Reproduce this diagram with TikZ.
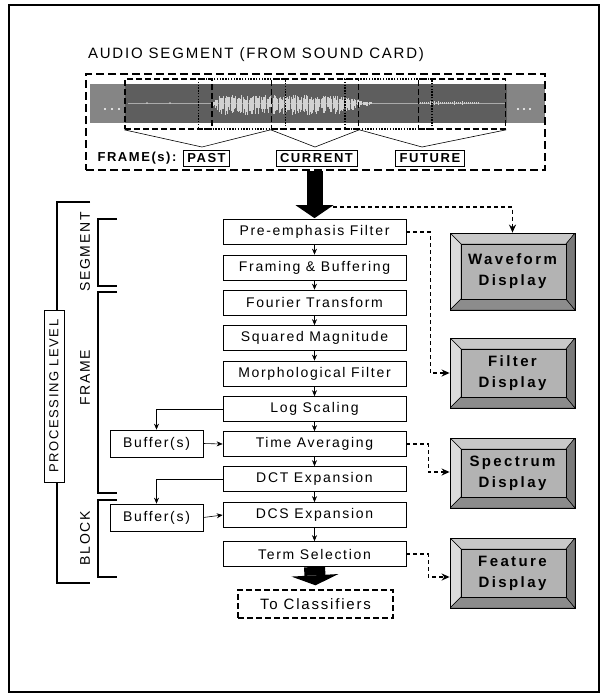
\documentclass[tikz,border=0pt]{standalone}
\usepackage{fontspec}
\setmainfont{Liberation Sans}
\newfontfamily\spfont[LetterSpace=12]{Liberation Sans}
\newfontfamily\dispfam[LetterSpace=16]{Liberation Sans}
\usetikzlibrary{arrows.meta,calc}
\definecolor{lgray}{HTML}{858585}
\definecolor{dgray}{HTML}{5E5E5E}
\definecolor{wcol}{HTML}{D2D2D2}
\definecolor{bface}{HTML}{B3B3B3}
\definecolor{btop}{HTML}{C8C8C8}
\definecolor{bleft}{HTML}{DCDCDC}
\definecolor{bbot}{HTML}{8C8C8C}
\definecolor{bright}{HTML}{7A7A7A}
\begin{document}
\begin{tikzpicture}[x=1pt,y=-1pt,
  pbox/.style={draw, line width=0.7pt, minimum width=183pt, minimum height=25pt, inner sep=0pt, font=\spfont\fontsize{14}{16}\selectfont},
  bufbox/.style={pbox, minimum width=93pt, minimum height=27pt},
  lbox/.style={draw, line width=0.8pt, minimum height=16pt, inner xsep=4pt, inner ysep=0pt, font=\spfont\bfseries\fontsize{13}{15}\selectfont},
  framedash/.style={draw, line width=1.6pt, dash pattern=on 6pt off 3pt, minimum width=87pt, minimum height=50pt, inner sep=0pt},
  framedot/.style={draw, line width=1.4pt, dash pattern=on 1.4pt off 1.4pt, minimum width=87pt, minimum height=50pt, inner sep=0pt},
  arr/.style={line width=0.6pt, -{Stealth[length=6pt,width=5pt]}},
  dconn/.style={line width=1.4pt, dash pattern=on 4pt off 3pt, -{Stealth[length=8pt,width=7pt]}},
  bracket/.style={line width=1.4pt},
  sidelabel/.style={rotate=90, font=\spfont\fontsize{14}{16}\selectfont},
  disp/.style={draw=black, line width=0.8pt, minimum width=125pt, minimum height=70pt, inner sep=0pt, align=center,
    font=\dispfam\bfseries\fontsize{15}{21}\selectfont,
    path picture={
      \path (path picture bounding box.south west) coordinate (@sw)
            (path picture bounding box.north east) coordinate (@ne)
            (path picture bounding box.north west) coordinate (@nw)
            (path picture bounding box.south east) coordinate (@se);
      \coordinate (@inw) at ([shift={(11pt,-11pt)}]@nw);
      \coordinate (@ine) at ([shift={(-9pt,-11pt)}]@ne);
      \coordinate (@isw) at ([shift={(11pt,11pt)}]@sw);
      \coordinate (@ise) at ([shift={(-9pt,11pt)}]@se);
      \filldraw[fill=btop, draw=black, line width=0.5pt] (@nw) -- (@ne) -- (@ine) -- (@inw) -- cycle;
      \filldraw[fill=bleft, draw=black, line width=0.5pt] (@nw) -- (@inw) -- (@isw) -- (@sw) -- cycle;
      \filldraw[fill=bbot, draw=black, line width=0.5pt] (@sw) -- (@isw) -- (@ise) -- (@se) -- cycle;
      \filldraw[fill=bright, draw=black, line width=0.5pt] (@ne) -- (@se) -- (@ise) -- (@ine) -- cycle;
      \filldraw[fill=bface, draw=black, line width=0.5pt] (@inw) -- (@ine) -- (@ise) -- (@isw) -- cycle;
    }}
]
\useasboundingbox (0,0) rectangle (602,696);
\draw[line width=2pt] (9,5) rectangle (599,692);

% ---------- audio segment ----------
\node[font=\spfont\fontsize{15}{17}\selectfont] (title) at (256,55) {AUDIO SEGMENT (FROM SOUND CARD)};
\fill[lgray] (90,84) rectangle (545,123);
\fill[dgray] (125,84) rectangle (507,123);
\draw[color=lgray!70!white, line width=1pt] (128,103) -- (505,103);
\pgfmathsetseed{5}
\foreach \x in {213,214.2,...,372} {
  \pgfmathsetmacro\env{min(1,(\x-211)/8)*min(1,max(0.12,(378-\x)/42))}
  \pgfmathsetmacro\up{\env*(3+5*rnd)}
  \pgfmathsetmacro\dn{\env*(4+8*rnd)}
  \draw[wcol, line width=0.8pt] (\x,103-\up) -- (\x,103+\dn);
}
\foreach \x in {420,422,...,478} {
  \pgfmathsetmacro\up{0.5+1.2*rnd}
  \draw[wcol, line width=0.6pt] (\x,103-\up) -- (\x,103+\up);
}
\foreach \x in {147,170} {\fill[wcol] (\x,103) circle (0.9);}
\foreach \x in {105,112,119,518,524,530} {\fill[white] (\x,109) circle (1.1);}

\node[framedash] (fa) at (168.5,104) {};
\node[framedot]  (fb) at (242,104) {};
\node[framedash] (fc) at (315,104) {};
\node[framedot]  (fd) at (388.5,104) {};
\node[framedash] (fe) at (462,104) {};

\node[draw, line width=1.8pt, dash pattern=on 8pt off 4pt, minimum width=459pt, minimum height=96pt, inner sep=0pt] (audio) at (315.5,122) {};

\node[font=\spfont\bfseries\fontsize{13}{15}\selectfont] (frames) at (137,158.5) {FRAME(s):};
\node[lbox] (past) at (206.5,158.5) {PAST};
\node[lbox] (cur) at (316.5,158.5) {CURRENT};
\node[lbox] (fut) at (430,158.5) {FUTURE};
\coordinate (pastpt) at (202,147);
\coordinate (curpt) at (315,147);
\coordinate (futpt) at (422,147);
\draw[line width=0.6pt] (fa.south west) -- (pastpt) -- (fc.south west);
\draw[line width=0.6pt] (fc.south west) -- (curpt) -- (fc.south east);
\draw[line width=0.6pt] (fc.south east) -- (futpt) -- (fe.south east);

% ---------- processing chain ----------
\node[pbox] (pre) at (314.5,232) {Pre-emphasis Filter};
\node[pbox] (frm) at (314.5,267.5) {Framing \& Buffering};
\node[pbox] (fou) at (314.5,302.5) {Fourier Transform};
\node[pbox] (sqm) at (314.5,338) {Squared Magnitude};
\node[pbox] (mor) at (314.5,373.5) {Morphological Filter};
\node[pbox] (log) at (314.5,409) {Log Scaling};
\node[pbox] (tav) at (314.5,444) {Time Averaging};
\node[pbox] (dct) at (314.5,479) {DCT Expansion};
\node[pbox] (dcs) at (314.5,515) {DCS Expansion};
\node[pbox] (ter) at (314.5,554) {Term Selection};
\node[pbox, dashed, line width=1.4pt, dash pattern=on 6pt off 3pt, minimum width=155pt, minimum height=28pt, font=\spfont\fontsize{15}{17}\selectfont] (cls) at (315.5,604) {To Classifiers};

\draw[arr] (pre) -- (frm);
\draw[arr] (frm) -- (fou);
\draw[arr] (fou) -- (sqm);
\draw[arr] (sqm) -- (mor);
\draw[arr] (mor) -- (log);
\draw[arr] (log) -- (tav);
\draw[arr] (tav) -- (dct);
\draw[arr] (dct) -- (dcs);
\draw[arr] (dcs) -- (ter);

\node[bufbox] (buf1) at (156.5,443.5) {Buffer(s)};
\node[bufbox] (buf2) at (156.5,517.5) {Buffer(s)};
\draw[arr] (log.west) -| (buf1.north);
\draw[arr] (buf1.east) -- (tav.west);
\draw[arr] (dct.west) -| (buf2.north);
\draw[arr] (buf2.east) -- (dcs.west);

% big arrows
\draw[line width=16pt, -{Triangle[length=13pt,width=38pt,line width=0pt]}] (audio.south -| pre.north) -- ([yshift=1pt]pre.north);
\draw[line width=21pt, -{Triangle[length=10pt,width=47pt,line width=0pt]}] (ter.south) -- ([yshift=4pt]cls.north);

% ---------- displays ----------
\node[disp, minimum height=77pt] (wave) at (512.5,271.5) {Waveform\\Display};
\node[disp] (filt) at (512.5,373) {Filter\\Display};
\node[disp] (spec) at (512.5,473) {Spectrum\\Display};
\node[disp] (feat) at (512.5,573) {Feature\\Display};

\coordinate (headR) at (333,207);
\draw[dconn] (headR) -| (wave.north);
\draw[dconn] (pre.east) -- ++(24,0) |- (filt.west);
\draw[dconn] (tav.east) -- ++(22,0) |- ([yshift=1pt]spec.west);
\draw[dconn] (ter.east) -- ++(22,0) |- ([yshift=-4pt]feat.west);

% ---------- processing levels ----------
\draw[bracket] (90,202) -- (57,202) -- (57,583) -- (90,583);
\node[draw, fill=white, line width=0.7pt, rotate=90, minimum width=172pt, minimum height=20pt, inner sep=0pt, font=\spfont\fontsize{13}{15}\selectfont] (plevel) at (54,396) {PROCESSING LEVEL};
\draw[bracket] (117,219) -- (98,219) -- (98,286) -- (117,286);
\draw[bracket] (117,292) -- (98,292) -- (98,493) -- (117,493);
\draw[bracket] (117,500) -- (98,500) -- (98,577) -- (117,577);
\node[sidelabel] (lseg) at (85,252) {SEGMENT};
\node[sidelabel] (lfrm) at (85,378) {FRAME};
\node[sidelabel] (lblk) at (85,538) {BLOCK};
\end{tikzpicture}
\end{document}
